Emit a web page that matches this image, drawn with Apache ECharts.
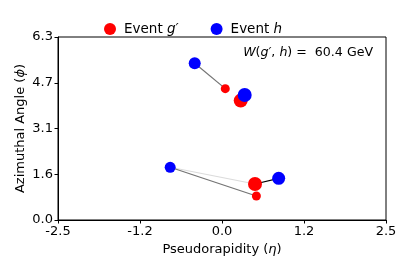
<!DOCTYPE html>
<html><head><meta charset="utf-8">
<script src="https://cdn.jsdelivr.net/npm/echarts@6/dist/echarts.min.js"></script>
<style>html,body{margin:0;padding:0;background:#fff}#c{width:407px;height:271px}</style>
</head><body><div id="c"></div>
<script>
// Event g' (red) particles
const redEta  = [0.05, 0.285, 0.503, 0.524];
const redPhi  = [4.51, 4.10, 1.236, 0.824];
const redSize = [9, 14, 14, 9];
// Event h (blue) particles
const blueEta  = [-0.416, 0.346, -0.79, 0.864];
const bluePhi  = [5.38, 4.29, 1.81, 1.43];
const blueSize = [12, 14, 11, 13];
// transport flows: [red index, blue index, relative weight]
const flowRed    = [0, 1, 2, 3, 2];
const flowBlue   = [0, 1, 2, 2, 3];
const flowWeight = [0.55, 1.0, 0.14, 0.55, 1.0];
const xTicks = [-2.5, -1.25, 0, 1.25, 2.5];
const xTickLabels = ['-2.5', '-1.2', '0.0', '1.2', '2.5'];
const yTickLabels = ['0.0', '1.6', '3.1', '4.7', '6.3'];
const emdText = '60.4 GeV';

const FONT = 'DejaVu Sans';
const chart = echarts.init(document.getElementById('c'), null, {renderer: 'canvas'});

const flowData = flowRed.map((r, i) => {
  const b = flowBlue[i];
  const a = flowWeight[i];
  const g = Math.round(255 * (1 - a));
  return {
    coords: [[redEta[r], redPhi[r]], [blueEta[b], bluePhi[b]]],
    lineStyle: {color: `rgb(${g},${g},${g})`, width: 1.2, opacity: 1}
  };
});

chart.setOption({
  animation: false,
  grid: {left: 58, right: 21, top: 37, bottom: 51, show: true, borderColor: '#000', borderWidth: 1},
  legend: {
    top: 17, left: 99, itemWidth: 12, itemHeight: 12, itemGap: 32,
    icon: 'circle',
    data: ['g', 'h'],
    formatter: n => n === 'g' ? 'Event {i|g′}' : 'Event {i|h}',
    textStyle: {fontFamily: FONT, fontSize: 13.5, color: '#000', padding: [0, 0, 0, 3],
      rich: {i: {fontFamily: FONT, fontStyle: 'italic', fontSize: 13.5}}}
  },
  title: {
    text: '{i|W}({i|g′}, {i|h}) =  ' + emdText,
    right: 34, top: 46, padding: 0,
    textStyle: {fontFamily: FONT, fontSize: 12.6, fontWeight: 'normal', color: '#000',
      rich: {i: {fontFamily: FONT, fontStyle: 'italic', fontSize: 12.6}}}
  },
  xAxis: {
    type: 'value', min: -2.5, max: 2.5, interval: 1.25,
    name: 'Pseudorapidity ({i|η})', nameLocation: 'middle', nameGap: 23, nameMoveOverlap: false,
    nameTextStyle: {fontFamily: FONT, fontSize: 13, color: '#000',
      rich: {i: {fontFamily: FONT, fontStyle: 'italic', fontSize: 13}}},
    axisLine: {show: true, onZero: false, lineStyle: {color: '#000', width: 1}},
    axisTick: {show: true, length: 3.5, lineStyle: {color: '#000'}},
    splitLine: {show: false},
    axisLabel: {fontFamily: FONT, fontSize: 13, color: '#000', margin: 5,
      formatter: v => { const i = xTicks.findIndex(t => Math.abs(t - v) < 1e-6); return i >= 0 ? xTickLabels[i] : ''; }}
  },
  yAxis: {
    type: 'value', min: 0, max: 2 * Math.PI, interval: Math.PI / 2,
    name: 'Azimuthal Angle ({i|ϕ})', nameLocation: 'middle', nameGap: 31, nameRotate: 90, nameMoveOverlap: false,
    nameTextStyle: {fontFamily: FONT, fontSize: 13, color: '#000',
      rich: {i: {fontFamily: FONT, fontStyle: 'italic', fontSize: 13}}},
    axisLine: {show: true, onZero: false, lineStyle: {color: '#000', width: 1}},
    axisTick: {show: true, length: 3.5, lineStyle: {color: '#000'}},
    splitLine: {show: false},
    axisLabel: {fontFamily: FONT, fontSize: 13, color: '#000', margin: 5, showMaxLabel: true,
      formatter: v => { const i = Math.round(v / (Math.PI / 2)); return yTickLabels[i] || ''; }}
  },
  series: [
    {type: 'lines', coordinateSystem: 'cartesian2d', data: flowData, z: 1, silent: true},
    {name: 'g', type: 'scatter', z: 2, itemStyle: {color: '#ff0000', opacity: 1},
      data: redEta.map((x, i) => ({value: [x, redPhi[i]], symbolSize: redSize[i]}))},
    {name: 'h', type: 'scatter', z: 3, itemStyle: {color: '#0000ff', opacity: 1},
      data: blueEta.map((x, i) => ({value: [x, bluePhi[i]], symbolSize: blueSize[i]}))}
  ]
});
</script></body></html>
